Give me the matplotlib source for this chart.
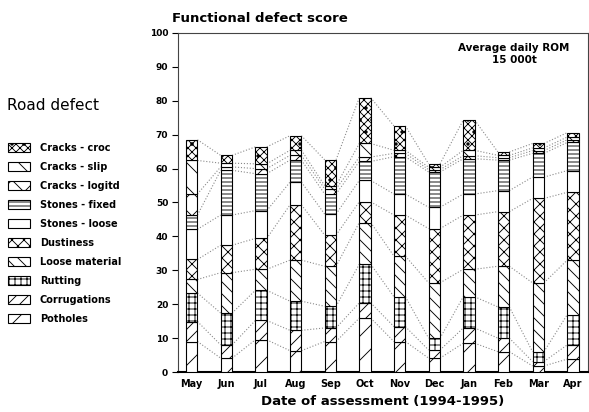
import numpy as np
import matplotlib
matplotlib.use("Agg")
import matplotlib.pyplot as plt
from matplotlib.patches import Patch

plt.rcParams['font.family'] = 'DejaVu Sans'
plt.rcParams['hatch.linewidth'] = 0.9

# drawn at 72 dpi so the hatch repeat unit is 72 px (denser patterns)
DPI = 72
S = 100 / DPI  # scale for sizes picked at 100 dpi

months = ["May", "Jun", "Jul", "Aug", "Sep", "Oct", "Nov", "Dec", "Jan", "Feb", "Mar", "Apr"]

# segment heights per defect, bottom of the stack first
potholes = [9.0, 4.1, 9.5, 6.3, 9.0, 15.9, 9.0, 4.1, 8.5, 6.0, 1.8, 3.8]
corrugations = [5.9, 3.9, 5.7, 6.0, 4.0, 4.5, 4.4, 2.4, 4.5, 4.0, 1.3, 4.2]
rutting = [8.4, 9.4, 8.9, 8.6, 6.4, 11.4, 8.8, 3.5, 9.2, 9.2, 2.9, 8.9]
loose_material = [4.0, 11.9, 6.2, 12.1, 11.8, 12.3, 12.0, 16.3, 8.1, 12.0, 20.3, 16.1]
dustiness = [5.9, 8.1, 9.1, 16.3, 9.2, 6.1, 12.1, 16.0, 16.0, 16.1, 24.9, 20.0]
stones_loose = [8.9, 8.9, 8.2, 6.7, 6.2, 6.3, 6.2, 6.3, 6.2, 6.2, 6.3, 6.4]
stones_fixed = [4.2, 13.2, 10.9, 6.5, 5.9, 5.6, 11.0, 10.4, 10.4, 9.0, 7.0, 8.3]
cracks_logitd = [6.2, 1.0, 1.5, 1.4, 1.5, 1.3, 1.0, 0.7, 0.9, 0.7, 0.8, 0.8]
cracks_slip = [9.9, 1.1, 1.4, 1.5, 1.0, 4.0, 0.9, 0.7, 1.6, 0.7, 0.8, 0.8]
cracks_croc = [6.1, 2.3, 5.0, 4.3, 7.6, 13.5, 7.2, 1.0, 8.9, 1.0, 1.3, 1.3]

series = [
    ("Potholes", potholes, "/"),
    ("Corrugations", corrugations, "//"),
    ("Rutting", rutting, "++"),
    ("Loose material", loose_material, "\\\\"),
    ("Dustiness", dustiness, "xx"),
    ("Stones - loose", stones_loose, ""),
    ("Stones - fixed", stones_fixed, "---"),
    ("Cracks - logitd", cracks_logitd, "x"),
    ("Cracks - slip", cracks_slip, "\\"),
    ("Cracks - croc", cracks_croc, "xxx."),
]

fig = plt.figure(figsize=(589 / DPI, 412 / DPI), dpi=DPI)
ax = fig.add_axes([0.302, 0.097, 0.696, 0.823])

x = np.arange(len(months))
width = 0.33
bottom = np.zeros(len(months))
tops = []
for name, vals, hatch in series:
    vals = np.array(vals)
    ax.bar(x, vals, width, bottom=bottom, facecolor="white", edgecolor="black",
           hatch=hatch, linewidth=0.8 * S, zorder=3)
    bottom = bottom + vals
    tops.append(bottom.copy())

# dotted connectors between matching boundaries of neighbouring bars
for level in tops:
    for i in range(len(months) - 1):
        ax.plot([x[i] + width / 2, x[i + 1] - width / 2], [level[i], level[i + 1]],
                ls=":", color="#8a8a8a", lw=0.8 * S, zorder=2)

ax.set_xlim(-0.4, 11.43)
ax.set_ylim(0, 100)
ax.set_yticks(np.arange(0, 101, 10))
ax.set_xticks(x)
ax.set_xticklabels(months, fontsize=7 * S, fontweight="bold")
ax.tick_params(axis="x", length=0, pad=5 * S)
ax.tick_params(axis="y", length=4 * S, width=0.8 * S, labelsize=6.5 * S, pad=3 * S)
for lab in ax.get_yticklabels():
    lab.set_fontweight("bold")
for side in ["left", "top", "right"]:
    ax.spines[side].set_linewidth(0.8 * S)
    ax.spines[side].set_color("#444444")
ax.spines["bottom"].set_linewidth(1.5 * S)

ax.set_xlabel("Date of assessment (1994-1995)", fontsize=9.5 * S, fontweight="bold",
              labelpad=4 * S)
fig.text(0.292, 0.94, "Functional defect score", fontsize=9.5 * S, fontweight="bold",
         ha="left", va="bottom")
ax.text(0.82, 0.97, "Average daily ROM\n15 000t", transform=ax.transAxes, fontsize=7.5 * S,
        fontweight="bold", ha="center", va="top", linespacing=1.2)

fig.text(0.012, 0.745, "Road defect", fontsize=11 * S, ha="left", va="center")
handles = [Patch(facecolor="white", edgecolor="black", hatch=h, linewidth=0.8 * S)
           for _, _, h in series[::-1]]
labels = [n for n, _, _ in series[::-1]]
fig.legend(handles, labels, loc="upper left", bbox_to_anchor=(-0.002, 0.675),
           frameon=False, prop={"size": 7 * S, "weight": "bold"}, handlelength=2.3,
           handleheight=1.0, handletextpad=1.0, labelspacing=0.93)

fig.savefig("out.png", dpi=DPI, facecolor="white")
